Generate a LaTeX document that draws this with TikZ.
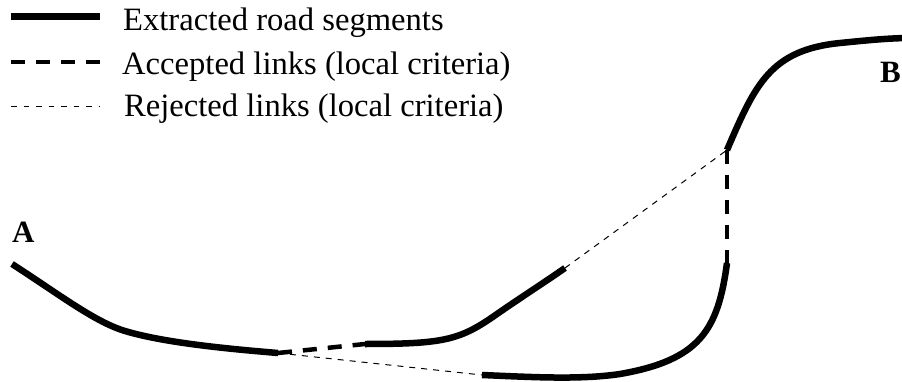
\documentclass[tikz,border=0pt]{standalone}
\usepackage{fontspec}
\setmainfont{Liberation Serif}
\begin{document}
\begin{tikzpicture}[x=1pt,y=-1pt,
  road/.style={line width=6.5pt, line cap=butt},
  acclink/.style={line width=4.5pt, dash pattern=on 14pt off 11pt},
  rejlink/.style={line width=1pt, dash pattern=on 6pt off 6pt},
  legtext/.style={font=\fontsize{32.6}{38}\selectfont, inner sep=0pt, anchor=base west},
  endlabel/.style={font=\fontsize{31}{36}\selectfont\bfseries, inner sep=0pt, anchor=base west}]
\useasboundingbox (0,0) rectangle (902,382);

% legend
\coordinate (l1a) at (11,17);  \coordinate (l1b) at (100,17);
\coordinate (l2a) at (11,62);  \coordinate (l2b) at (100,62);
\coordinate (l3a) at (11,107); \coordinate (l3b) at (100,107);
\draw[line width=7pt] (l1a) -- (l1b);
\draw[acclink] (l2a) -- (l2b);
\draw[line width=1pt, dash pattern=on 5.5pt off 7pt] (l3a) -- (l3b);
\node[legtext] (t1) at (123,31) {Extracted road segments};
\node[legtext] (t2) at (122,75) {Accepted links (local criteria)};
\node[legtext] (t3) at (124,117) {Rejected links (local criteria)};

% end labels
\node[endlabel] (A) at (12,242) {A};
\node[endlabel] (B) at (880,83) {B};

% segment end points
\coordinate (s1a) at (12,264);
\coordinate (s1b) at (278,353);
\coordinate (s2a) at (365,344);
\coordinate (s2b) at (565,268);
\coordinate (s3a) at (727,150);
\coordinate (s3b) at (912,38);
\coordinate (s4a) at (727,263);
\coordinate (s4b) at (482,375);

% extracted road segments
\draw[road] (s1a) .. controls (60,295) and (95,322) .. (125,331)
            .. controls (165,343) and (230,349) .. (s1b);
\draw[road] (s2a) .. controls (445,344) and (460,340) .. (497,314)
            .. controls (520,298) and (545,282) .. (s2b);
\draw[road] (s3a) .. controls (755,85) and (770,50) .. (840,43)
            .. controls (870,40) and (890,38) .. (s3b);
\draw[road] (s4a) .. controls (718,330) and (700,360) .. (620,374)
            .. controls (580,380) and (530,377) .. (s4b);

% links
\draw[acclink] (s1b) -- (s2a);
\draw[acclink] (s3a) -- (s4a);
\draw[rejlink] (s1b) -- (s4b);
\draw[rejlink] (s2b) -- (s3a);
\end{tikzpicture}
\end{document}
